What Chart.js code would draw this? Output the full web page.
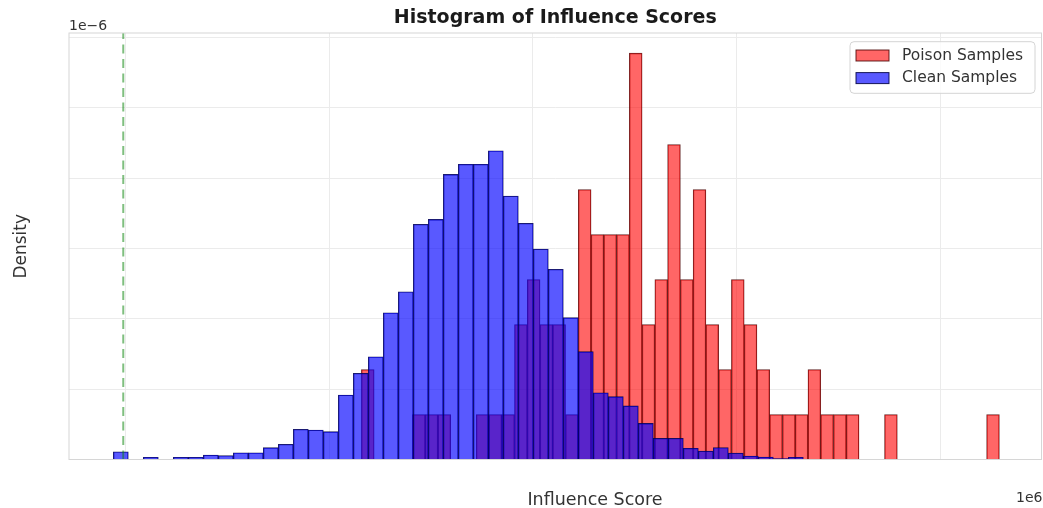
<!DOCTYPE html>
<html>
<head>
<meta charset="utf-8">
<script src="https://cdn.jsdelivr.net/npm/chart.js@4.4.1/dist/chart.umd.min.js"></script>
<style>
  html, body { margin: 0; padding: 0; background: #ffffff; }
  #wrap { width: 1043px; height: 508px; position: relative; }
</style>
</head>
<body>
<div id="wrap"><canvas id="c" width="1043" height="508"></canvas></div>
<script>
// Influence score axis is in units of 1e6, density axis in units of 1e-6.
const xTicks = [0, 0.5, 1.0, 1.5, 2.0];
const xRange = [-0.1382, 2.2489];
const yTicks = [0, 0.5, 1.0, 1.5, 2.0, 2.5, 3.0];
const yRange = [0, 3.0334];

const seriesNames = ['Poison Samples', 'Clean Samples'];

// Poison samples: 50 bins
const poisonBinStart = 0.5795;
const poisonBinWidth = 0.03132;
const poisonDensity = [
  0.64, 0, 0, 0, 0.32, 0.32, 0.32, 0, 0, 0.32,
  0.32, 0.32, 0.96, 1.28, 0.96, 0.96, 0.32, 1.92, 1.60, 1.60,
  1.60, 2.89, 0.96, 1.28, 2.24, 1.28, 1.92, 0.96, 0.64, 1.28,
  0.96, 0.64, 0.32, 0.32, 0.32, 0.64, 0.32, 0.32, 0.32, 0,
  0, 0.32, 0, 0, 0, 0, 0, 0, 0, 0.32
];

// Clean samples: 50 bins
const cleanBinStart = -0.02945;
const cleanBinWidth = 0.03682;
const cleanDensity = [
  0.055, 0, 0.016, 0, 0.016, 0.016, 0.032, 0.028, 0.048, 0.048,
  0.084, 0.108, 0.215, 0.210, 0.198, 0.459, 0.613, 0.731, 1.044, 1.193,
  1.673, 1.708, 2.028, 2.100, 2.100, 2.196, 1.874, 1.680, 1.497, 1.353,
  1.009, 0.767, 0.475, 0.447, 0.381, 0.257, 0.151, 0.151, 0.080, 0.060,
  0.085, 0.046, 0.025, 0.018, 0.006, 0.016, 0, 0, 0, 0
];

// Detection threshold (vertical dashed line)
const thresholdScore = -0.005;

const FONT = "'DejaVu Sans', 'Liberation Sans', sans-serif";

function toPoints(start, width, values) {
  return values.map((v, i) => ({ x: start + (i + 0.5) * width, y: v }));
}

const fixTicks = (list) => (scale) => { scale.ticks = list.map(v => ({ value: v })); };

const decorPlugin = {
  id: 'decor',
  afterDatasetsDraw(chart) {
    const { ctx, chartArea: a, scales } = chart;
    ctx.save();

    // threshold line
    const tx = scales.x.getPixelForValue(thresholdScore);
    ctx.strokeStyle = 'rgba(0,128,0,0.5)';
    ctx.lineWidth = 2;
    ctx.setLineDash([9, 5.5]);
    ctx.beginPath();
    ctx.moveTo(tx, a.bottom);
    ctx.lineTo(tx, a.top);
    ctx.stroke();
    ctx.setLineDash([]);

    // axes frame
    ctx.strokeStyle = '#d6d6d6';
    ctx.lineWidth = 1;
    ctx.strokeRect(a.left, a.top, a.right - a.left, a.bottom - a.top);

    // legend
    const bx = a.right - 191.5, by = a.top + 8.7, bw = 185, bh = 51.6;
    ctx.fillStyle = 'rgba(255,255,255,0.8)';
    ctx.strokeStyle = '#d4d4d4';
    ctx.beginPath();
    ctx.roundRect(bx, by, bw, bh, 4);
    ctx.fill();
    ctx.stroke();
    ctx.font = '15.5px ' + FONT;
    ctx.textBaseline = 'middle';
    ctx.textAlign = 'left';
    chart.data.datasets.forEach((ds, i) => {
      const ry = by + 8.3 + i * 22.6;
      ctx.fillStyle = ds.backgroundColor;
      ctx.fillRect(bx + 6, ry, 33, 11);
      ctx.strokeStyle = ds.borderColor;
      ctx.lineWidth = 1;
      ctx.strokeRect(bx + 6, ry, 33, 11);
      ctx.fillStyle = '#333333';
      ctx.fillText(ds.label, bx + 52, ry + 5.8);
    });

    // axis labels and offset texts
    ctx.fillStyle = '#333333';
    ctx.textBaseline = 'alphabetic';
    ctx.font = '14px ' + FONT;
    ctx.textAlign = 'left';
    ctx.fillText('1e\u22126', a.left, 30);
    ctx.textAlign = 'right';
    ctx.fillText('1e6', 1042.5, 501.5);

    ctx.font = '17.5px ' + FONT;
    ctx.textAlign = 'center';
    ctx.fillText('Influence Score', 595, 505);

    ctx.save();
    ctx.translate(26, (a.top + a.bottom) / 2);
    ctx.rotate(-Math.PI / 2);
    ctx.font = '17px ' + FONT;
    ctx.textAlign = 'center';
    ctx.fillText('Density', 0, 0);
    ctx.restore();

    ctx.restore();
  }
};

new Chart(document.getElementById('c'), {
  type: 'bar',
  data: {
    datasets: [
      {
        label: seriesNames[0],
        data: toPoints(poisonBinStart, poisonBinWidth, poisonDensity),
        xAxisID: 'x',
        order: 2,
        grouped: false,
        backgroundColor: 'rgba(255,0,0,0.6)',
        borderColor: 'rgba(73,0,0,0.84)',
        borderWidth: 0.7,
        borderSkipped: 'start',
        barPercentage: 1,
        categoryPercentage: 1
      },
      {
        label: seriesNames[1],
        data: toPoints(cleanBinStart, cleanBinWidth, cleanDensity),
        xAxisID: 'x2',
        order: 1,
        grouped: false,
        backgroundColor: 'rgba(0,0,255,0.65)',
        borderColor: 'rgba(0,0,66,0.88)',
        borderWidth: 0.7,
        borderSkipped: 'start',
        barPercentage: 1,
        categoryPercentage: 1
      }
    ]
  },
  options: {
    responsive: false,
    animation: false,
    devicePixelRatio: 1,
    layout: { padding: { left: 69, right: 1.5, top: 0, bottom: 48.5 } },
    plugins: {
      legend: { display: false },
      tooltip: { enabled: false },
      title: {
        display: true,
        text: 'Histogram of Influence Scores',
        color: '#1a1a1a',
        font: { family: FONT, size: 19, weight: 'bold', lineHeight: 1.2 },
        padding: { top: 7, bottom: 3.2 }
      }
    },
    scales: {
      x: {
        type: 'linear',
        min: xRange[0], max: xRange[1],
        offset: false,
        afterBuildTicks: fixTicks(xTicks),
        ticks: { display: false },
        grid: { color: '#ebebeb', lineWidth: 1, drawTicks: false, offset: false },
        border: { display: false }
      },
      x2: {
        type: 'linear',
        display: false,
        min: xRange[0], max: xRange[1],
        offset: false,
        afterBuildTicks: fixTicks(xTicks),
        grid: { display: false, offset: false }
      },
      y: {
        type: 'linear',
        min: yRange[0], max: yRange[1],
        afterBuildTicks: fixTicks(yTicks),
        ticks: { display: false },
        grid: { color: '#ebebeb', lineWidth: 1, drawTicks: false },
        border: { display: false }
      }
    }
  },
  plugins: [decorPlugin]
});
</script>
</body>
</html>
